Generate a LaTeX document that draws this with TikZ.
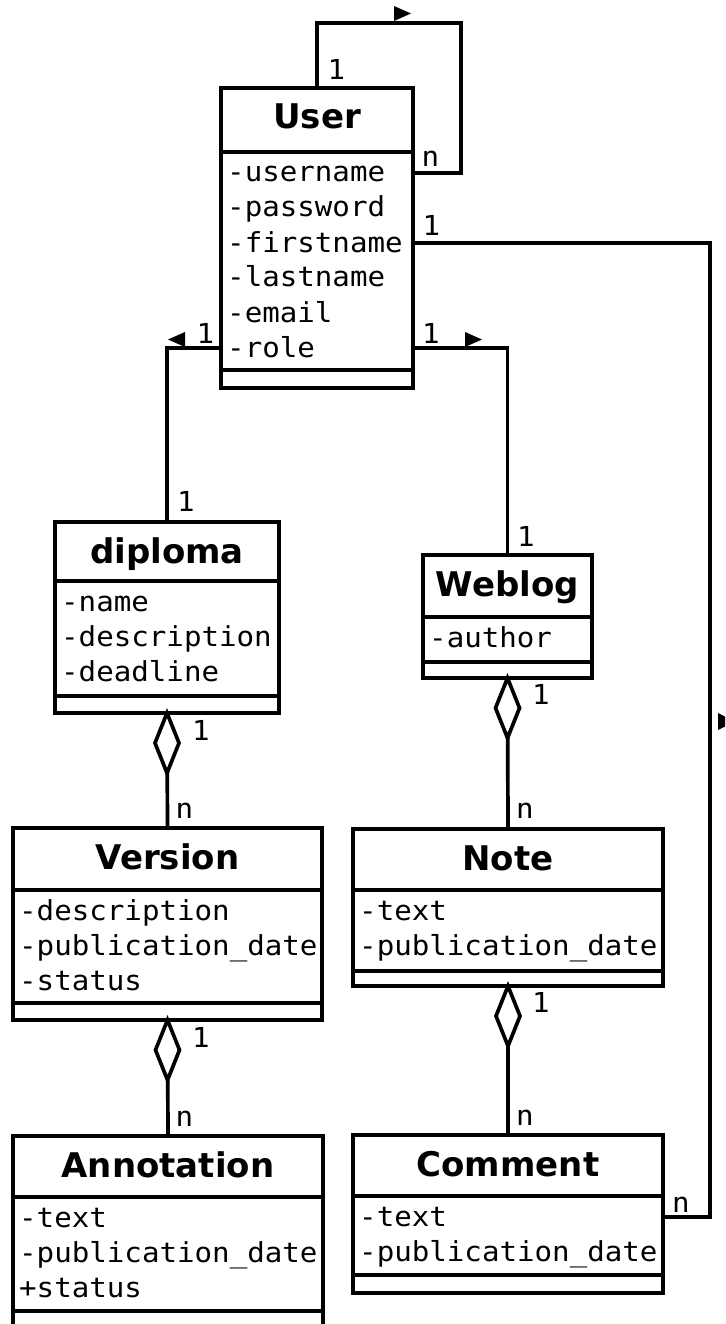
\documentclass[tikz,border=0pt]{standalone}
\usepackage{fontspec}
\newfontfamily\umltitle{DejaVu Sans}
\newfontfamily\umlmono[FakeStretch=1.06]{DejaVu Sans Mono}
\tikzset{
  box/.style={draw, line width=3.7pt, inner sep=0pt, outer sep=0pt, anchor=north west, fill=white},
  conn/.style={line width=3.7pt},
  ttl/.style={font=\umltitle\bfseries\fontsize{34}{40}\selectfont, inner sep=0pt, anchor=base},
  attr/.style={font=\umlmono\fontsize{27.5}{33}\selectfont, inner sep=0pt, anchor=base west},
  mult/.style={font=\umlmono\fontsize{27.5}{33}\selectfont, inner sep=0pt, anchor=base},
  dirtri/.style={fill=black},
}
\newcommand{\umlclass}[9]{%
  \node[box, minimum width={(#3-#2)*1pt}, minimum height={(#7-#4)*1pt}] (#1) at (#2,#4) {};
  \draw[conn] (#1.west |- 0,#5) -- (#1.east |- 0,#5);
  \draw[conn] (#1.west |- 0,#6) -- (#1.east |- 0,#6);
  \node[ttl] (#1-t) at ({(#2+#3)/2},#4+41) {#8};
  \foreach \x [count=\i] in {#9} {\node[attr] (#1-a\i) at (#2+6,{#5+30+35*(\i-1)}) {\x};}
}
\newcommand{\aggr}[1]{\draw[conn, fill=white, line join=miter] (#1) -- ++(12,30) -- ++(-12,30) -- ++(-12,-30) -- cycle;}
\begin{document}
\begin{tikzpicture}[x=1pt,y=-1pt]
\fill[white] (0,0) rectangle (725,1324);
\useasboundingbox (0,0) rectangle (725,1324);
\clip (0,0) rectangle (725,1324);

\umlclass{user}{221}{413}{88}{152}{370}{388}{User}{-username,-password,-firstname,-lastname,-email,-role}
\umlclass{diploma}{55}{279}{522}{581}{696}{713}{diploma}{-name,-description,-deadline}
\umlclass{weblog}{423}{592}{555}{617}{662}{678}{Weblog}{-author}
\umlclass{version}{13}{322}{828}{890}{1003}{1020}{Version}{-description,-publication\_date,-status}
\umlclass{note}{353}{663}{829}{890}{971}{986}{Note}{-text,-publication\_date}
\umlclass{annotation}{13}{323}{1136}{1197}{1311}{1328}{Annotation}{-text,-publication\_date,+status}
\umlclass{comment}{353}{663}{1135}{1196}{1275}{1293}{Comment}{-text,-publication\_date}

% associations
\draw[conn] (user.north) |- (461,23) |- (user.east |- 0,173);
\draw[conn] (user.west |- 0,348) -| (diploma.north);
\draw[conn] (user.east |- 0,348) -| (weblog.north);
\draw[conn] (user.east |- 0,243) -| (710,1217) -- (comment.east |- 0,1217);

% aggregations
\draw[conn] (diploma.south) -- (version.north);
\draw[conn] (version.south) -- (annotation.north);
\draw[conn] (weblog.south) -- (note.north);
\draw[conn] (note.south) -- (comment.north);
\aggr{diploma.south}
\aggr{version.south}
\aggr{weblog.south}
\aggr{note.south}

% direction triangles
\fill[dirtri] (394,6) -- (411,13.5) -- (394,21) -- cycle;
\fill[dirtri] (185,332) -- (168,339.5) -- (185,347) -- cycle;
\fill[dirtri] (465,332) -- (482,339.5) -- (465,347) -- cycle;
\fill[dirtri] (718,713) -- (735,721.5) -- (718,730) -- cycle;

% multiplicities
\node[mult] (m1) at (336.5,80) {1};
\node[mult] (m2) at (430.5,167) {n};
\node[mult] (m3) at (205.5,343) {1};
\node[mult] (m4) at (431,343) {1};
\node[mult] (m5) at (431.5,236) {1};
\node[mult] (m6) at (186,511) {1};
\node[mult] (m7) at (526,546) {1};
\node[mult] (m8) at (541,704) {1};
\node[mult] (m9) at (525,818) {n};
\node[mult] (m10) at (201,740) {1};
\node[mult] (m11) at (184.5,818) {n};
\node[mult] (m12) at (201,1047) {1};
\node[mult] (m13) at (184.5,1126) {n};
\node[mult] (m14) at (541,1012) {1};
\node[mult] (m15) at (525,1125) {n};
\node[mult] (m16) at (681,1212) {n};
\end{tikzpicture}
\end{document}
